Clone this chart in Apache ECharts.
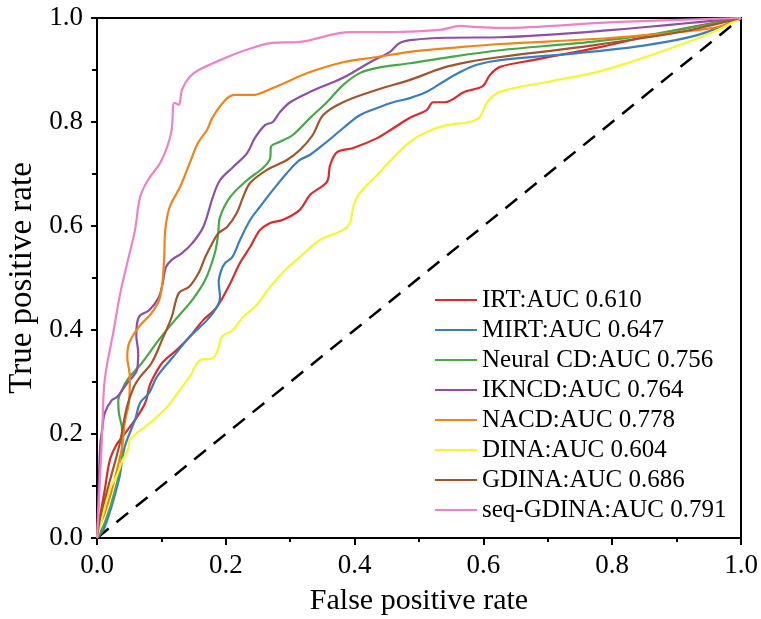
<!DOCTYPE html>
<html>
<head>
<meta charset="utf-8">
<script src="https://cdn.jsdelivr.net/npm/echarts@6/dist/echarts.min.js"></script>
<style>
html,body{margin:0;padding:0;background:#fff;}
#chart{width:761px;height:619px;}
</style>
</head>
<body>
<div id="chart"></div>
<script>
// Tick values
const xTicks = [0, 0.2, 0.4, 0.6, 0.8, 1.0];
const yTicks = [0, 0.2, 0.4, 0.6, 0.8, 1.0];

const seriesNames = ['IRT:AUC 0.610','MIRT:AUC 0.647','Neural CD:AUC 0.756','IKNCD:AUC 0.764','NACD:AUC 0.778','DINA:AUC 0.604','GDINA:AUC 0.686','seq-GDINA:AUC 0.791'];

// ROC points [FPR, TPR]
const irt = [[0,0],[0.003,0.029],[0.012,0.092],[0.02,0.15],[0.03,0.179],[0.039,0.194],[0.059,0.227],[0.075,0.26],[0.082,0.294],[0.092,0.319],[0.102,0.338],[0.124,0.362],[0.144,0.387],[0.165,0.419],[0.186,0.444],[0.207,0.49],[0.222,0.529],[0.238,0.56],[0.253,0.592],[0.269,0.606],[0.289,0.612],[0.315,0.631],[0.331,0.66],[0.357,0.685],[0.362,0.717],[0.373,0.742],[0.398,0.75],[0.435,0.769],[0.46,0.788],[0.486,0.808],[0.512,0.823],[0.522,0.838],[0.54,0.838],[0.571,0.858],[0.599,0.869],[0.61,0.89],[0.626,0.906],[0.677,0.919],[0.781,0.944],[0.885,0.973],[1,1]];
const mirt = [[0,0],[0.012,0.021],[0.034,0.112],[0.043,0.175],[0.059,0.227],[0.067,0.26],[0.081,0.279],[0.093,0.31],[0.118,0.348],[0.144,0.387],[0.171,0.419],[0.186,0.444],[0.191,0.463],[0.189,0.492],[0.193,0.515],[0.199,0.529],[0.21,0.54],[0.222,0.573],[0.238,0.612],[0.253,0.637],[0.273,0.669],[0.295,0.702],[0.315,0.727],[0.331,0.737],[0.357,0.762],[0.382,0.788],[0.408,0.813],[0.435,0.827],[0.46,0.838],[0.486,0.846],[0.512,0.858],[0.537,0.877],[0.564,0.896],[0.59,0.91],[0.626,0.919],[0.75,0.933],[0.854,0.948],[0.932,0.967],[1,1]];
const neuralCD = [[0,0],[0.012,0.029],[0.028,0.092],[0.039,0.163],[0.039,0.208],[0.034,0.24],[0.033,0.265],[0.039,0.285],[0.047,0.304],[0.07,0.337],[0.096,0.381],[0.121,0.419],[0.148,0.458],[0.168,0.496],[0.183,0.548],[0.188,0.583],[0.191,0.617],[0.207,0.656],[0.233,0.688],[0.258,0.712],[0.269,0.731],[0.27,0.752],[0.284,0.762],[0.304,0.775],[0.331,0.808],[0.357,0.838],[0.382,0.871],[0.408,0.894],[0.435,0.904],[0.486,0.913],[0.537,0.923],[0.626,0.938],[0.75,0.952],[0.854,0.967],[1,1]];
const ikncd = [[0,0],[0.002,0.073],[0.005,0.179],[0.008,0.208],[0.012,0.24],[0.023,0.265],[0.031,0.271],[0.047,0.298],[0.062,0.323],[0.064,0.356],[0.061,0.39],[0.065,0.425],[0.081,0.438],[0.096,0.463],[0.102,0.49],[0.107,0.521],[0.116,0.535],[0.132,0.548],[0.148,0.567],[0.165,0.598],[0.18,0.656],[0.191,0.688],[0.211,0.713],[0.233,0.74],[0.245,0.769],[0.261,0.794],[0.273,0.8],[0.284,0.819],[0.3,0.838],[0.331,0.858],[0.382,0.885],[0.424,0.915],[0.455,0.935],[0.47,0.952],[0.491,0.958],[0.543,0.962],[0.626,0.963],[0.801,0.977],[1,1]];
const nacd = [[0,0],[0.005,0.025],[0.012,0.048],[0.023,0.092],[0.039,0.175],[0.043,0.221],[0.05,0.265],[0.051,0.31],[0.047,0.348],[0.05,0.375],[0.065,0.406],[0.085,0.433],[0.098,0.463],[0.104,0.529],[0.106,0.592],[0.113,0.637],[0.129,0.675],[0.144,0.721],[0.157,0.76],[0.171,0.785],[0.179,0.808],[0.199,0.842],[0.214,0.852],[0.241,0.852],[0.272,0.865],[0.331,0.896],[0.382,0.915],[0.435,0.925],[0.486,0.935],[0.564,0.944],[0.626,0.95],[0.801,0.962],[0.957,0.981],[1,1]];
const dina = [[0,0],[0.003,0.015],[0.011,0.054],[0.019,0.092],[0.031,0.121],[0.04,0.15],[0.048,0.169],[0.051,0.188],[0.062,0.202],[0.082,0.221],[0.109,0.252],[0.129,0.285],[0.144,0.31],[0.16,0.342],[0.18,0.346],[0.188,0.362],[0.194,0.387],[0.211,0.4],[0.227,0.425],[0.248,0.448],[0.269,0.483],[0.292,0.515],[0.315,0.54],[0.346,0.573],[0.382,0.592],[0.393,0.606],[0.398,0.637],[0.408,0.663],[0.435,0.698],[0.46,0.731],[0.486,0.762],[0.512,0.781],[0.543,0.794],[0.579,0.8],[0.595,0.81],[0.606,0.838],[0.626,0.858],[0.699,0.877],[0.776,0.896],[0.828,0.915],[0.905,0.948],[0.957,0.973],[1,1]];
const gdina = [[0,0],[0.005,0.04],[0.02,0.11],[0.035,0.18],[0.046,0.25],[0.057,0.29],[0.067,0.31],[0.085,0.337],[0.101,0.381],[0.116,0.425],[0.127,0.471],[0.143,0.483],[0.158,0.51],[0.168,0.54],[0.179,0.567],[0.189,0.587],[0.202,0.598],[0.217,0.625],[0.227,0.656],[0.238,0.683],[0.264,0.708],[0.295,0.727],[0.315,0.746],[0.335,0.775],[0.351,0.813],[0.382,0.838],[0.435,0.862],[0.486,0.881],[0.537,0.904],[0.575,0.915],[0.626,0.925],[0.75,0.944],[0.905,0.973],[1,1]];
const seqGdina = [[0,0],[0.0016,0.035],[0.008,0.2],[0.012,0.304],[0.026,0.4],[0.036,0.47],[0.047,0.529],[0.059,0.592],[0.067,0.656],[0.079,0.688],[0.098,0.721],[0.109,0.752],[0.116,0.785],[0.12,0.837],[0.127,0.833],[0.132,0.862],[0.144,0.887],[0.158,0.9],[0.199,0.923],[0.23,0.938],[0.272,0.952],[0.315,0.954],[0.393,0.973],[0.46,0.973],[0.533,0.977],[0.564,0.985],[0.584,0.983],[0.626,0.981],[0.801,0.992],[1,1]];
const diagonal = [[0,0],[1,1]];

const colors = ['#dc2a2c','#3a7dc0','#46a846','#8e4fa6','#f08418','#f5f530','#a0552c','#ef82c6'];
const curves = [irt, mirt, neuralCD, ikncd, nacd, dina, gdina, seqGdina];

const FONT = 'Liberation Serif';
const chart = echarts.init(document.getElementById('chart'), null, {renderer:'canvas'});

const series = curves.map((d, i) => ({
  name: seriesNames[i],
  type: 'line',
  data: d,
  smooth: 0.35,
  symbol: 'none',
  lineStyle: {width: 2.2, color: colors[i]},
  itemStyle: {color: colors[i]},
  z: 3
}));
series.push({
  name: 'diag',
  type: 'line',
  data: diagonal,
  symbol: 'none',
  lineStyle: {width: 2.5, color: '#000', type: [15, 10]},
  z: 2
});

chart.setOption({
  animation: false,
  backgroundColor: '#fff',
  grid: {left: 97, right: 20, top: 18, bottom: 81, containLabel: false, outerBoundsMode: 'none', show: true, borderColor: '#000', borderWidth: 2, backgroundColor: 'transparent'},
  legend: {
    data: seriesNames,
    orient: 'vertical',
    left: 430,
    top: 282,
    itemWidth: 42,
    itemHeight: 14,
    itemGap: 4,
    textStyle: {fontFamily: FONT, fontSize: 25, color: '#000', lineHeight: 26},
    icon: 'path://M0,6 L42,6 L42,8 L0,8 Z'
  },
  xAxis: {
    type: 'value', min: xTicks[0], max: xTicks[xTicks.length-1], interval: 0.2,
    name: 'False positive rate', nameLocation: 'middle', nameGap: 48,
    nameTextStyle: {fontFamily: FONT, fontSize: 30, color: '#000'},
    axisLine: {show: true, lineStyle: {color: '#000', width: 2}},
    axisTick: {show: true, inside: false, length: 7, lineStyle: {color: '#000', width: 2}},
    minorTick: {show: true, splitNumber: 2, length: 4, lineStyle: {color: '#000', width: 2}},
    splitLine: {show: false},
    axisLabel: {fontFamily: FONT, fontSize: 27, color: '#000', margin: 14, formatter: v => v.toFixed(1)}
  },
  yAxis: {
    type: 'value', min: yTicks[0], max: yTicks[yTicks.length-1], interval: 0.2,
    name: 'True positive rate', nameLocation: 'middle', nameGap: 54,
    nameTextStyle: {fontFamily: FONT, fontSize: 33, color: '#000'},
    axisLine: {show: true, lineStyle: {color: '#000', width: 2}},
    axisTick: {show: true, inside: false, length: 6, lineStyle: {color: '#000', width: 2}},
    minorTick: {show: true, splitNumber: 2, length: 5, lineStyle: {color: '#000', width: 2}},
    splitLine: {show: false},
    axisLabel: {fontFamily: FONT, fontSize: 27, color: '#000', margin: 14, formatter: v => v.toFixed(1)}
  },
  series: series
});
</script>
</body>
</html>
